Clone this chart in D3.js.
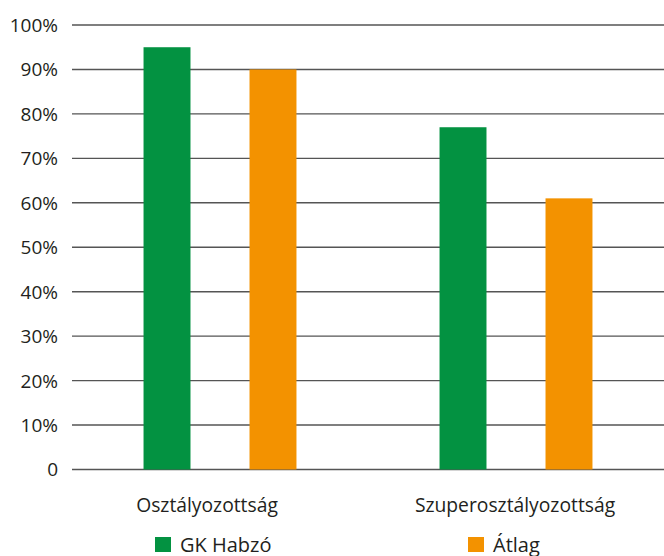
<!DOCTYPE html>
<html>
<head>
<meta charset="utf-8">
<script src="https://cdn.jsdelivr.net/npm/d3@7"></script>
<style>
  body { margin: 0; background: #fff; }
  svg text { font-family: "Open Sans", "Liberation Sans", sans-serif; fill: #231f20; }
</style>
</head>
<body>
<svg width="664" height="556"></svg>
<script>
const categories = ["Osztályozottság", "Szuperosztályozottság"]
const series = ["GK Habzó", "Átlag"]
const gkValues = [95, 77]
const atlagValues = [90, 61]
const yTicks = [0, 10, 20, 30, 40, 50, 60, 70, 80, 90, 100]
const colors = ["#039241", "#f39200"]

const svg = d3.select("svg")
const width = +svg.attr("width")

const margin = { left: 72, right: 0, top: 25, bottom: 87 }
const plotBottom = 469.5

const x0 = d3.scaleBand().domain(categories).range([margin.left, width])
const x1 = d3.scaleBand().domain(series)
    .range([0, x0.bandwidth()])
    .paddingInner(0.557)
    .paddingOuter(0.675)
const y = d3.scaleLinear().domain([0, 100]).range([plotBottom, margin.top])

// grid lines
svg.append("g")
    .selectAll("line")
    .data(yTicks)
    .enter().append("line")
    .attr("x1", margin.left)
    .attr("x2", width)
    .attr("y1", d => y(d))
    .attr("y2", d => y(d))
    .attr("stroke", "#555")
    .attr("stroke-width", 1.4)

// y labels
const yAxis = svg.append("g")
    .attr("transform", `translate(${margin.left - 14},0)`)
    .call(d3.axisLeft(y).tickValues(yTicks).tickSize(0)
        .tickFormat(d => d === 0 ? "0" : d + "%"))
yAxis.select(".domain").remove()
yAxis.selectAll("text")
    .attr("x", 0)
    .attr("dy", "0.34em")
    .style("font-size", "19px")
    .attr("text-anchor", "end")

// bars
const rows = categories.map((c, i) => ({ cat: c, vals: [gkValues[i], atlagValues[i]] }))
const groups = svg.append("g")
    .selectAll("g")
    .data(rows)
    .enter().append("g")
    .attr("transform", d => `translate(${x0(d.cat)},0)`)

groups.selectAll("rect")
    .data(d => d.vals.map((v, j) => ({ s: series[j], v: v, j: j })))
    .enter().append("rect")
    .attr("x", d => x1(d.s))
    .attr("width", x1.bandwidth())
    .attr("y", d => y(d.v))
    .attr("height", d => y(0) - y(d.v))
    .attr("fill", d => colors[d.j])

// category labels
const labelShift = [-13, -1]
const xAxis = svg.append("g")
    .attr("transform", `translate(0,${plotBottom})`)
    .call(d3.axisBottom(x0).tickSize(0))
xAxis.select(".domain").remove()
xAxis.selectAll("text")
    .attr("y", 29)
    .attr("dx", (d, i) => labelShift[i])
    .style("font-size", "19.3px")

// legend
const legendX = [155, 468]
const legend = svg.append("g")
    .selectAll("g")
    .data(series)
    .enter().append("g")
    .attr("transform", (d, i) => `translate(${legendX[i]},537)`)
legend.append("rect")
    .attr("width", 16)
    .attr("height", 15)
    .attr("fill", (d, i) => colors[i])
legend.append("text")
    .attr("x", 25)
    .attr("y", 14.5)
    .style("font-size", "20px")
    .text(d => d)
</script>
</body>
</html>
